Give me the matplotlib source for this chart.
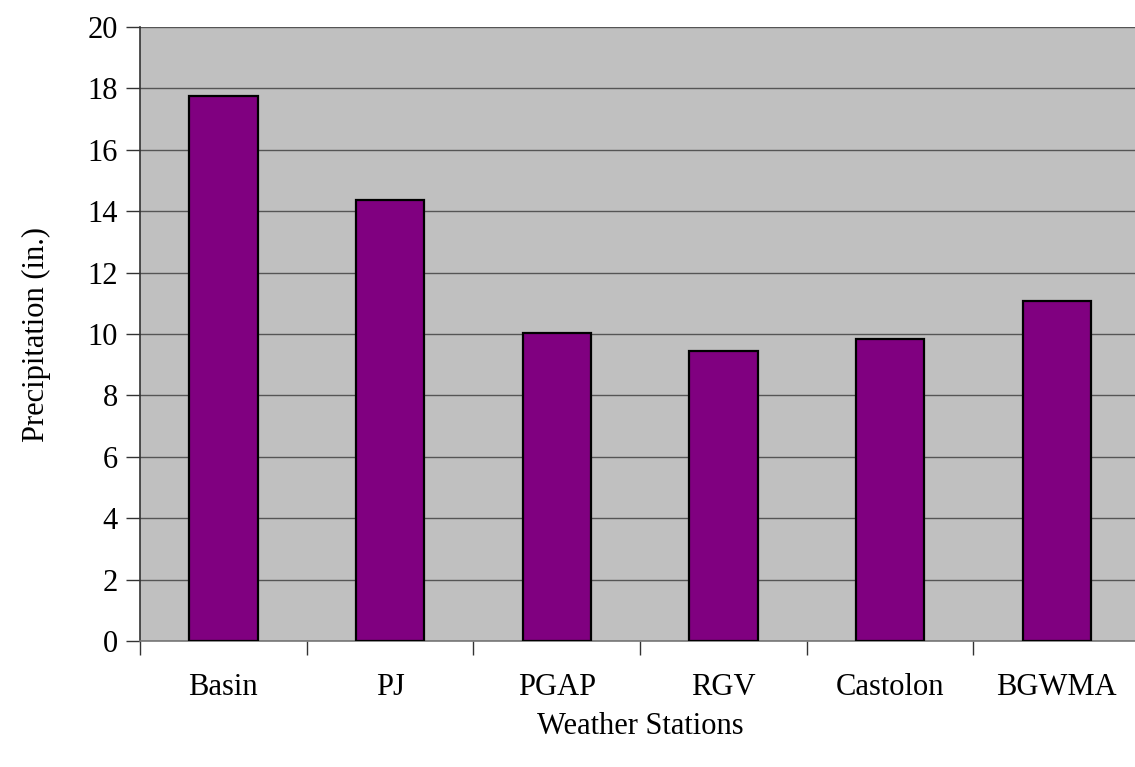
import matplotlib
matplotlib.use("Agg")
import matplotlib.pyplot as plt
import numpy as np

stations = ["Basin", "PJ", "PGAP", "RGV", "Castolon", "BGWMA"]
precip = [17.74, 14.38, 10.02, 9.45, 9.85, 11.08]
y_ticks = [0, 2, 4, 6, 8, 10, 12, 14, 16, 18, 20]

plt.rcParams['font.family'] = ['Liberation Serif', 'DejaVu Serif']

fig = plt.figure(figsize=(11.35, 7.67), dpi=100)
# plot area runs past the right edge of the figure
ax = fig.add_axes([140 / 1135, 126 / 767, 1000 / 1135, 614 / 767])
ax.set_facecolor('#C0C0C0')

x = np.arange(len(stations))
ax.bar(x, precip, width=0.41, color='#800080', edgecolor='black',
       linewidth=1.6, zorder=3)

ax.set_xlim(-0.5, len(stations) - 0.5)
ax.set_ylim(0, 20)
ax.set_yticks(y_ticks)
ax.set_yticklabels([str(v) for v in y_ticks], fontsize=22)
ax.yaxis.grid(True, color='#555555', linewidth=1.0, zorder=1)

# category labels between boundary ticks
ax.set_xticks(np.arange(-0.5, len(stations), 1.0))
ax.set_xticklabels([])
ax.set_xticks(x, minor=True)
ax.set_xticklabels(stations, minor=True, fontsize=22)
ax.tick_params(axis='x', which='minor', length=0, pad=23)
ax.tick_params(axis='x', which='major', direction='out', length=10,
               width=1, color='#333333')
ax.tick_params(axis='y', direction='out', length=10, width=1,
               color='#333333', pad=6)

for side in ['top', 'right']:
    ax.spines[side].set_visible(False)
ax.spines['left'].set_color('#333333')
ax.spines['bottom'].set_color('#777777')
ax.spines['left'].set_linewidth(1.2)
ax.spines['bottom'].set_linewidth(1.2)

ax.set_ylabel('Precipitation (in.)', fontsize=22, labelpad=26)
fig.text(640 / 1135, 1 - 727 / 767, 'Weather Stations',
         fontsize=22, ha='center', va='center')

fig.savefig('out.png', dpi=100)
